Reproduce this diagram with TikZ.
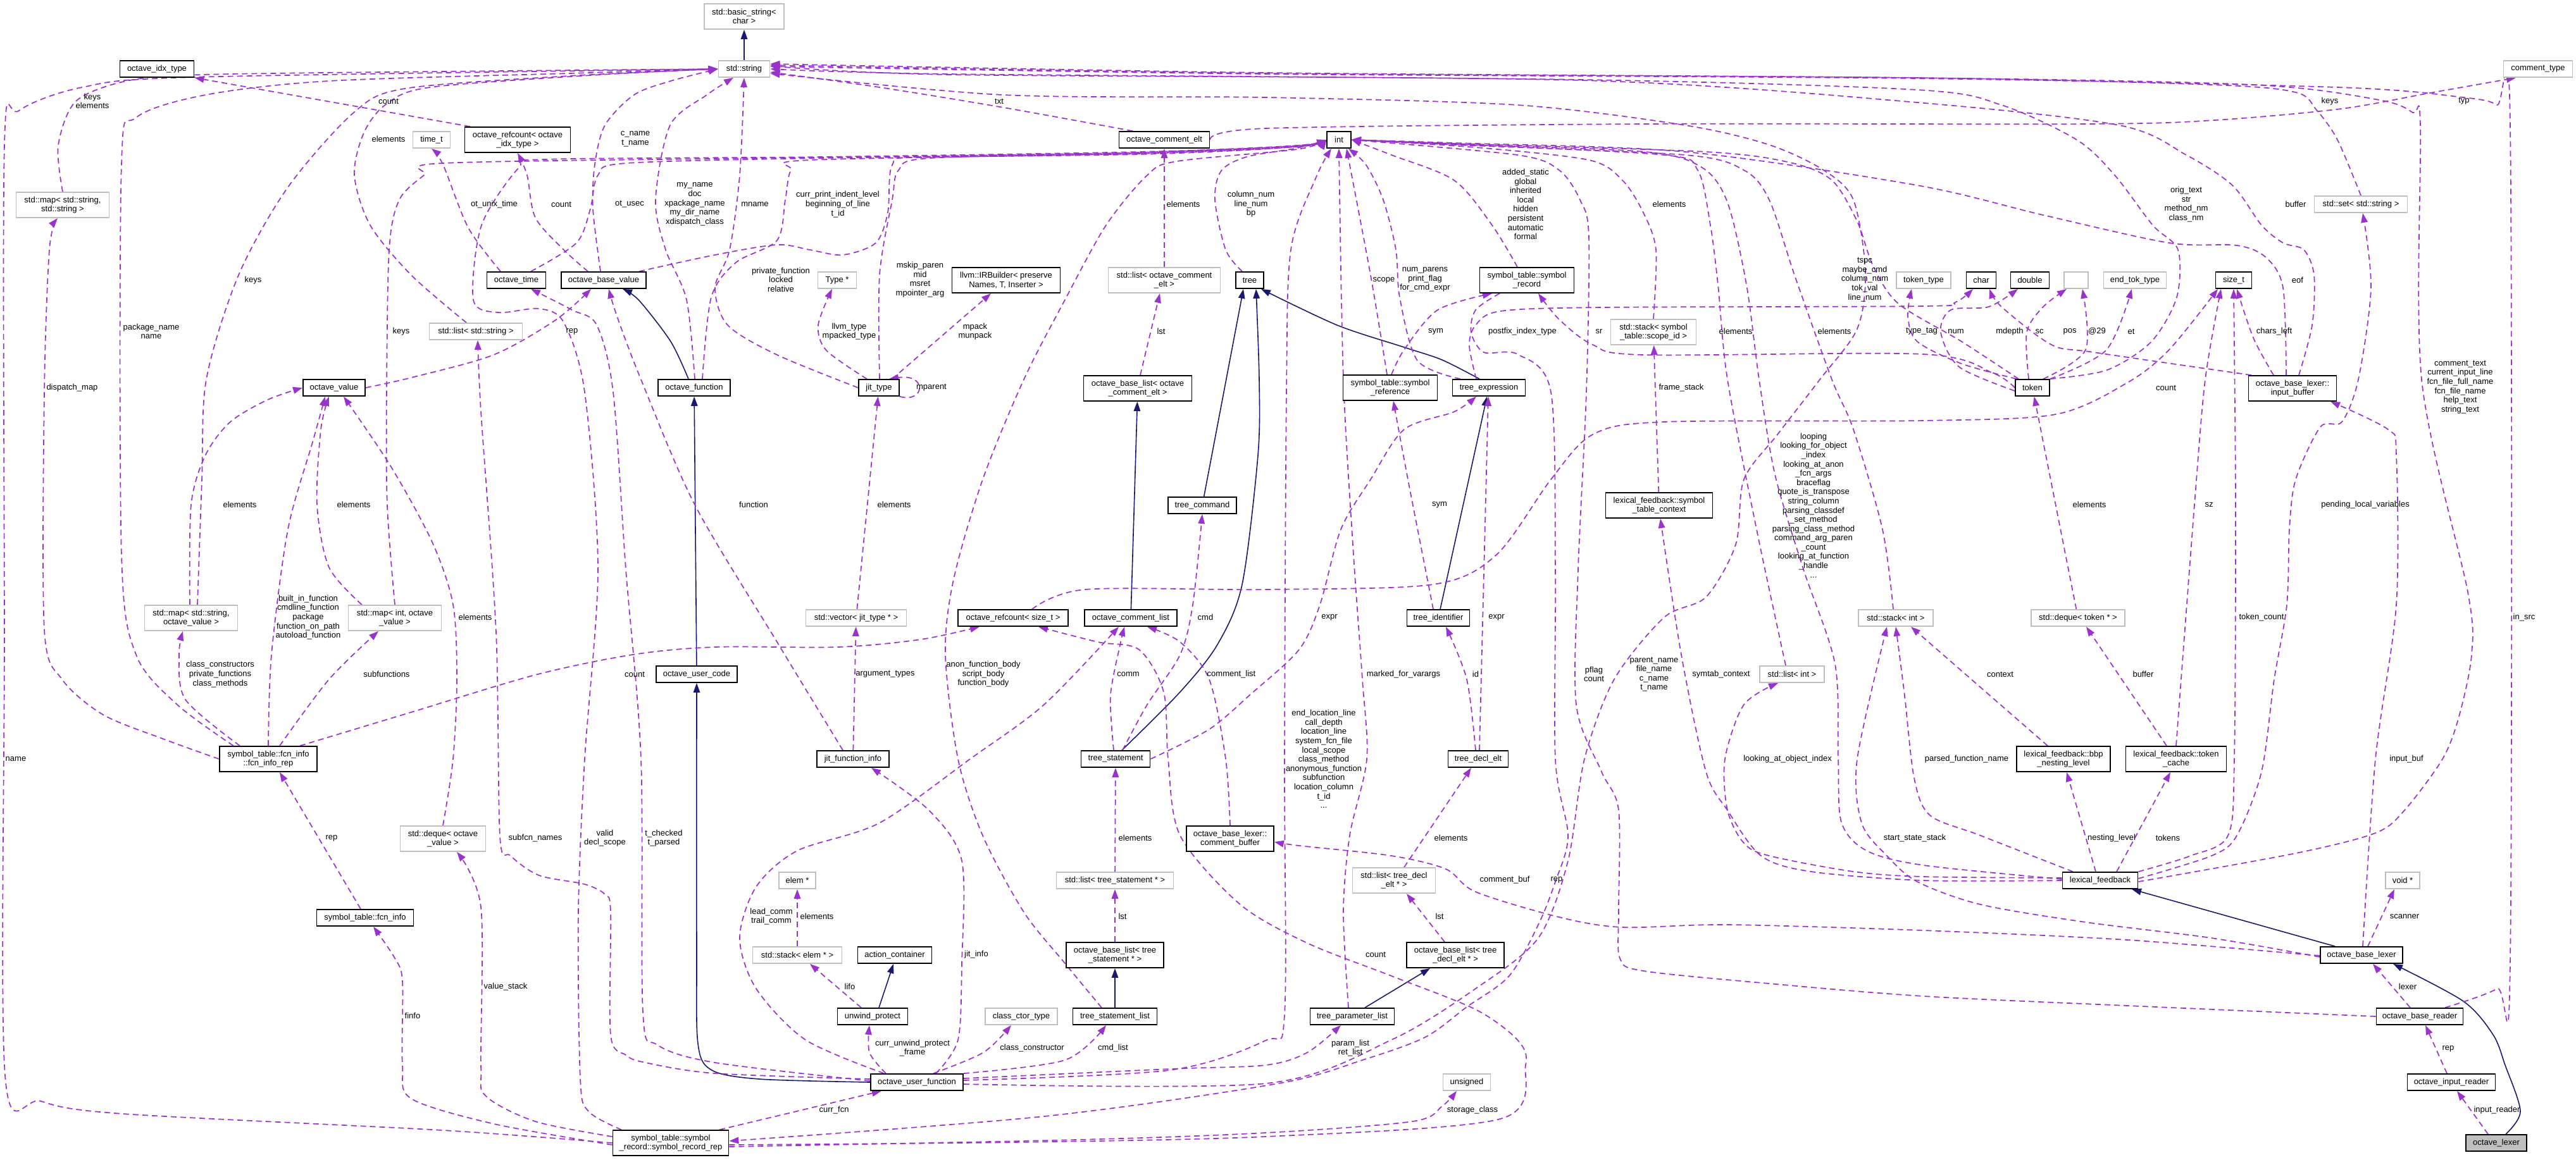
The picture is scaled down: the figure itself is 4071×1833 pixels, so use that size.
\documentclass[tikz,border=0pt]{standalone}
\usepackage{fontspec}
\setmainfont{Liberation Sans}
\usetikzlibrary{arrows.meta}
\definecolor{dpurple}{HTML}{9A32CD}
\definecolor{navyb}{HTML}{191970}
\definecolor{graybd}{HTML}{BFBFBF}
\newcommand\nf{\fontsize{3.7pt}{4.15pt}\selectfont}
\pgfdeclarelayer{back}
\pgfdeclarelayer{edges}
\pgfsetlayers{back,edges,main}
\tikzset{
 cls/.style={draw=black, line width=0.18mm, fill=white, font=\nf, align=center, minimum height=2.6mm, inner xsep=0.3mm, inner ysep=0.2mm},
 ext/.style={cls, draw=graybd},
 two/.style={minimum height=4mm},
 lbl/.style={font=\nf, align=center, inner sep=0pt},
 dep/.style={draw=dpurple, line width=0.17mm, dash pattern=on 0.9mm off 0.6mm, -{Triangle[length=1.5mm,width=1.05mm]}},
 inh/.style={draw=navyb, line width=0.16mm, -{Triangle[length=1.5mm,width=1.05mm]}},
}
\begin{document}
\begin{tikzpicture}[x=0.1mm,y=-0.1mm]
\begin{pgfonlayer}{back}
\fill[white] (0,0) rectangle (4071,1833);
\end{pgfonlayer}
\useasboundingbox (0,0) rectangle (4071,1833);
% ---------------- nodes ----------------
\node[ext,two,minimum width=12.6mm] (bs) at (1176,26) {std::basic\_string<\\char >};
\node[ext,minimum width=8.1mm] (str) at (1176,109) {std::string};
\node[cls,minimum width=11.7mm] (idx) at (248,109) {octave\_idx\_type};
\node[ext,minimum width=10.9mm] (ctype) at (4011,109) {comment\_type};
\node[ext,two,minimum width=14.7mm] (mapss) at (99,324) {std::map< std::string,\\std::string >};
\node[ext,minimum width=5.9mm] (timet) at (682,221) {time\_t};
\node[cls,two,minimum width=16.7mm] (rcidx) at (818,221) {octave\_refcount< octave\\\_idx\_type >};
\node[cls,minimum width=14.3mm] (oce) at (1840,221) {octave\_comment\_elt};
\node[cls,minimum width=3.8mm] (int) at (2116,221) {int};
\node[ext,minimum width=14.7mm] (setstr) at (3731,323) {std::set< std::string >};
\node[cls,minimum width=9.3mm] (otime) at (816,443) {octave\_time};
\node[cls,minimum width=13.4mm] (obv) at (954,443) {octave\_base\_value};
\node[ext,minimum width=14.7mm] (lstr) at (752,524) {std::list< std::string >};
\node[ext,minimum width=6.1mm] (typep) at (1323,443) {Type *};
\node[cls,two,minimum width=17.1mm] (irb) at (1590,443) {llvm::IRBuilder< preserve\\Names, T, Inserter >};
\node[ext,two,minimum width=17.7mm] (locel) at (1840,443) {std::list< octave\_comment\\\_elt >};
\node[cls,minimum width=4.4mm] (tree) at (1975,443) {tree};
\node[cls,two,minimum width=14.9mm] (srec) at (2413,443) {symbol\_table::symbol\\\_record};
\node[ext,two,minimum width=13.5mm] (stscope) at (2613,525) {std::stack< symbol\\\_table::scope\_id >};
\node[ext,minimum width=8.6mm] (toktype) at (3040,443) {token\_type};
\node[cls,minimum width=4.7mm] (chr) at (3131,443) {char};
\node[cls,minimum width=6.1mm] (dbl) at (3208,443) {double};
\node[ext,minimum width=3.8mm] (empty) at (3281,443) {};
\node[ext,minimum width=9.9mm] (etok) at (3374,443) {end\_tok\_type};
\node[cls,minimum width=5.7mm] (sizet) at (3530,443) {size\_t};
\node[cls,minimum width=9.8mm] (ov) at (528,613) {octave\_value};
\node[cls,minimum width=11.4mm] (ofun) at (1097,613) {octave\_function};
\node[cls,minimum width=6.4mm] (jit) at (1389,613) {jit\_type};
\node[cls,two,minimum width=17.1mm] (oblce) at (1798,614) {octave\_base\_list< octave\\\_comment\_elt >};
\node[cls,two,minimum width=14.9mm] (sref) at (2197,613) {symbol\_table::symbol\\\_reference};
\node[cls,minimum width=11.5mm] (texpr) at (2353,613) {tree\_expression};
\node[cls,minimum width=5.4mm] (token) at (3212,613) {token};
\node[cls,two,minimum width=13.9mm] (inbuf) at (3623,614) {octave\_base\_lexer::\\input\_buffer};
\node[cls,minimum width=10.8mm] (tcmd) at (1900,799) {tree\_command};
\node[cls,two,minimum width=16.9mm] (stctx) at (2622,799) {lexical\_feedback::symbol\\\_table\_context};
\node[ext,two,minimum width=14.7mm] (mapsov) at (302,977) {std::map< std::string,\\octave\_value >};
\node[ext,two,minimum width=14.7mm] (mapiov) at (624,977) {std::map< int, octave\\\_value >};
\node[ext,minimum width=15.9mm] (vecjit) at (1353,977) {std::vector< jit\_type * >};
\node[cls,minimum width=17.4mm] (rcsz) at (1601,977) {octave\_refcount< size\_t >};
\node[cls,minimum width=14.6mm] (ocl) at (1787,977) {octave\_comment\_list};
\node[cls,minimum width=9.9mm] (tid) at (2273,977) {tree\_identifier};
\node[ext,minimum width=11.8mm] (stint) at (2996,977) {std::stack< int >};
\node[ext,minimum width=14.8mm] (dqtok) at (3284,977) {std::deque< token * >};
\node[cls,minimum width=12.8mm] (ouc) at (1101,1066) {octave\_user\_code};
\node[ext,minimum width=10.2mm] (lint) at (2832,1066) {std::list< int >};
\node[cls,two,minimum width=15.4mm] (fir) at (424,1200) {symbol\_table::fcn\_info\\::fcn\_info\_rep};
\node[cls,minimum width=11.4mm] (jfi) at (1348,1200) {jit\_function\_info};
\node[cls,minimum width=10.9mm] (tstmt) at (1763,1200) {tree\_statement};
\node[cls,minimum width=9.5mm] (tde) at (2336,1200) {tree\_decl\_elt};
\node[cls,two,minimum width=14.8mm] (bbp) at (3261,1200) {lexical\_feedback::bbp\\\_nesting\_level};
\node[cls,two,minimum width=15.9mm] (tcache) at (3439,1200) {lexical\_feedback::token\\\_cache};
\node[ext,two,minimum width=13.5mm] (dqov) at (700,1326) {std::deque< octave\\\_value >};
\node[cls,two,minimum width=13.8mm] (cbuf) at (1944,1326) {octave\_base\_lexer::\\comment\_buffer};
\node[ext,two,minimum width=13.1mm] (ltde) at (2203,1392) {std::list< tree\_decl\\\_elt * >};
\node[ext,minimum width=5.8mm] (elem) at (1260,1392) {elem *};
\node[ext,minimum width=18.5mm] (lts) at (1762,1392) {std::list< tree\_statement * >};
\node[cls,minimum width=11.9mm] (lexfb) at (3319,1392) {lexical\_feedback};
\node[ext,minimum width=5.4mm] (voidp) at (3797,1392) {void *};
\node[cls,minimum width=15.3mm] (finfo) at (577,1451) {symbol\_table::fcn\_info};
\node[ext,minimum width=14.1mm] (stelem) at (1260,1510) {std::stack< elem * >};
\node[cls,minimum width=11.7mm] (acont) at (1414,1510) {action\_container};
\node[cls,two,minimum width=15.4mm] (oblts) at (1762,1510) {octave\_base\_list< tree\\\_statement * >};
\node[cls,two,minimum width=15.4mm] (obltde) at (2300,1510) {octave\_base\_list< tree\\\_decl\_elt * >};
\node[cls,minimum width=13mm] (obl) at (3732,1510) {octave\_base\_lexer};
\node[cls,minimum width=11.1mm] (unwind) at (1379,1607) {unwind\_protect};
\node[ext,minimum width=11.4mm] (cctor) at (1614,1607) {class\_ctor\_type};
\node[cls,minimum width=13.3mm] (tsl) at (1762,1607) {tree\_statement\_list};
\node[cls,minimum width=13.3mm] (tpl) at (2137,1607) {tree\_parameter\_list};
\node[cls,minimum width=13.7mm] (obr) at (3824,1607) {octave\_base\_reader};
\node[cls,minimum width=14.6mm] (ouf) at (1449,1711) {octave\_user\_function};
\node[ext,minimum width=7.5mm] (unsig) at (2318,1711) {unsigned};
\node[cls,minimum width=13.9mm] (oir) at (3874,1711) {octave\_input\_reader};
\node[cls,two,minimum width=18.3mm] (srr) at (1060,1807) {symbol\_table::symbol\\\_record::symbol\_record\_rep};
\node[cls,fill=graybd,minimum width=9.6mm] (lexer) at (3945,1807) {octave\_lexer};
% ---------------- edges ----------------
\begin{pgfonlayer}{edges}
% inheritance
\draw[inh] (str) -- (bs);
\draw[inh] plot[smooth] coordinates {([xshift=-0.9mm]ofun.north) (1060,540) (1010,475) ([xshift=3mm]obv.south)};
\draw[inh] (ouc) -- (ofun);
\draw[inh] plot[smooth] coordinates {(ouf.west) (1200,1706) (1125,1692) (1103,1650) (1101,1500) (ouc.south)};
\draw[inh] (ocl) -- (oblce);
\draw[inh] (tcmd) -- ([xshift=-1mm]tree.south);
\draw[inh] plot[smooth] coordinates {([xshift=1mm]tstmt.north) (1865,1094) (1924,1019) (1963,924) (1988,720) (1990,600) ([xshift=1mm]tree.south)};
\draw[inh] plot[smooth] coordinates {([xshift=-1.5mm]texpr.north) (2279,569) (2219,549) (2113,514) ([xshift=1.8mm]tree.south)};
\draw[inh] (tid) -- (texpr);
\draw[inh] ([xshift=1mm]unwind.north) -- ([xshift=-0.2mm]acont.south);
\draw[inh] (tsl) -- (oblts);
\draw[inh] ([xshift=2mm]tpl.north) -- ([xshift=-4mm]obltde.south);
\draw[inh] ([xshift=-4.2mm]obl.north) -- ([xshift=5mm]lexfb.south);
\draw[inh] plot[smooth] coordinates {([xshift=1.5mm]lexer.north) (3983,1757) (3959,1684) (3940,1636) (3893,1583) ([xshift=5mm]obl.south)};
% dependencies
\draw[dep] plot[smooth] coordinates {(mapss.north) (92,230) (120,160) (200,128) (320,118) (700,113) (str.west)};
\draw[dep] plot[smooth] coordinates {([xshift=-5.5mm]fir.north) (280,1114) (215,1035) (192,877) (192,260) (215,186) (325,150) (520,128) (900,116) (str.west)};
\draw[dep] plot[smooth] coordinates {(srr.west) (700,1787) (195,1761) (65,1741) (8,1700) (7,1000) (7,230) (30,175) (130,138) (306,122) (str.west)};
\draw[dep] ([xshift=-7.5mm]rcidx.north) -- (idx.south east);
\draw[dep] plot[smooth] coordinates {([xshift=1mm]mapsov.north) (319,760) (326,600) (377,435) (455,296) (559,178) (640,140) (900,120) (str.west)};
\draw[dep] plot[smooth] coordinates {([xshift=-1.5mm]lstr.north) (650,435) (585,356) (560,277) (575,210) (610,165) (680,138) (950,118) (str.west)};
\draw[dep] plot[smooth] coordinates {([xshift=-2.5mm]otime.north) (740,360) (700,260) (timet.south)};
\draw[dep] plot[smooth] coordinates {([xshift=2.3mm]otime.north) (911,384) (933,330) (945,277) (990,258) (1300,250) (1800,244) (2050,232) (int.west)};
\draw[dep] plot[smooth] coordinates {([xshift=-2.5mm]obv.north) (891,395) (846,344) (833,277) (rcidx.south)};
\draw[dep] plot[smooth] coordinates {([xshift=-0.5mm]obv.north) (937,330) (940,260) (956,198) (1002,150) (1060,128) (str.west)};
\draw[dep] plot[smooth] coordinates {(mapiov.north) (612,800) (611,620) (615,395) (631,316) (670,277) (700,258) (1200,250) (1800,242) (2050,230) (int.west)};
\draw[dep] plot[smooth] coordinates {(ov.east) (650,597) (780,561) (878,506) ([xshift=-2mm]obv.south)};
\draw[dep] plot[smooth] coordinates {(fir.west) (260,1169) (163,1130) (98,1074) (70,995) (70,620) (78,395) ([xshift=-0.8mm]mapss.south)};
\draw[dep] plot[smooth] coordinates {([xshift=-0.2mm]mapsov.north) (302,798) (325,719) (364,667) (423,632) (ov.west)};
\draw[dep] plot[smooth] coordinates {([xshift=-5.2mm]mapiov.north) (520,897) (501,798) (507,679) ([xshift=-0.8mm]ov.south)};
\draw[dep] plot[smooth] coordinates {(fir.north) (429,1035) (455,837) (494,699) ([xshift=-1.4mm]ov.south)};
\draw[dep] plot[smooth] coordinates {(dqov.north) (716,1200) (722,1074) (716,956) (683,857) (618,738) ([xshift=1.5mm]ov.south)};
\draw[dep] plot[smooth] coordinates {([xshift=-4.5mm]fir.north) (293,1106) (283,1035) ([xshift=-1.3mm]mapsov.south)};
\draw[dep] plot[smooth] coordinates {([xshift=1.8mm]fir.north) (520,1074) ([xshift=-2.6mm]mapiov.south)};
\draw[dep] plot[smooth] coordinates {([xshift=5mm]fir.north) (650,1126) (846,1067) (1000,1035) (1130,1023) (1325,1023) (1455,1011) ([xshift=-5.3mm]rcsz.south)};
\draw[dep] ([xshift=-0.7mm]finfo.north) -- ([xshift=1.8mm]fir.south);
\draw[dep] plot[smooth] coordinates {([yshift=-0.3mm]srr.west) (781,1777) (650,1737) (636,1684) (636,1551) (624,1515) ([xshift=1.3mm]finfo.south)};
\draw[dep] plot[smooth] coordinates {([yshift=1mm]srr.west) (846,1773) (768,1733) (760,1684) (760,1434) ([xshift=2.2mm]dqov.south)};
\draw[dep] plot[smooth] coordinates {([yshift=0.5mm]ouf.west) (1130,1697) (1020,1680) (989,1668) (965,1636) (965,1442) (956,1414) (924,1398) (852,1384) (807,1353) (790,1321) (784,1000) (760,650) ([xshift=0.3mm]lstr.south)};
\draw[dep] plot[smooth] coordinates {([xshift=-7.8mm]srr.north) (930,1757) (917,1705) (914,1442) (924,1200) (945,900) (924,620) (891,510) (852,488) (787,494) (748,474) (761,356) (820,265) (860,252) (1300,248) (1800,240) (2050,231) (int.west)};
\draw[dep] plot[smooth] coordinates {([yshift=0.2mm]ouf.west) (1130,1680) (1039,1652) (1016,1600) (1013,1200) (989,900) (969,620) (943,514) (904,490) ([xshift=2.3mm]otime.south)};
\draw[dep] plot[smooth] coordinates {([xshift=0.1mm]ofun.north) (1085,474) (1052,395) (1036,316) (1059,198) (1117,150) ([xshift=-1.7mm]str.south)};
\draw[dep] plot[smooth] coordinates {(jit.west) (1228,561) (1150,514) (1130,455) (1153,395) (1169,277) (str.south)};
\draw[dep] plot[smooth] coordinates {([xshift=5.6mm]obv.north) (1130,403) (1228,387) (1280,395) (1332,403) (1384,384) (1403,336) (1410,261) (1455,248) (1800,241) (2050,230) (int.west)};
\draw[dep] plot[smooth] coordinates {([xshift=1.3mm]ofun.north) (1124,470) (1163,415) (1228,380) (1241,316) (1250,269) (1280,253) (1800,243) (2050,232) (int.west)};
\draw[dep] plot[smooth] coordinates {([xshift=-1.9mm]jit.north) (1306,554) (1293,514) ([xshift=-0.8mm]typep.south)};
\draw[dep] ([xshift=2.1mm]jit.north) -- ([xshift=-2.4mm]irb.south);
\draw[dep] plot[smooth] coordinates {([xshift=0.1mm]jit.north) (1390,435) (1410,316) (1420,269) (1470,250) (1800,242) (2050,231) (int.west)};
\draw[dep] (jit.south east) .. controls (1462,638) and (1466,590) .. ([xshift=1.6mm]jit.north);
\draw[dep] plot[smooth] coordinates {([xshift=-5mm]oce.north) (1586,170) (1390,138) ([yshift=-0.5mm]str.east)};
\draw[dep] plot[smooth] coordinates {(oce.east) (2000,203) (2600,196) (3300,196) (3500,190) (3700,172) (3840,147) ([xshift=-3.5mm]ctype.south)};
\draw[dep] (locel) -- (oce);
\draw[dep] ([xshift=0.4mm]oblce.north) -- ([xshift=-0.7mm]locel.south);
\draw[dep] plot[smooth] coordinates {([xshift=-1.2mm]tree.north) (1937,395) (1920,316) (1930,270) (1970,248) (2050,234) (int.west)};
\draw[dep] plot[smooth] coordinates {([xshift=-1.5mm]srec.north) (2358,356) (2298,285) (2199,245) (int.east)};
\draw[dep] plot[smooth] coordinates {([xshift=-0.5mm]sref.north) (2166,435) ([xshift=1.2mm]int.south)};
\draw[dep] plot[smooth] coordinates {([xshift=-4.5mm]texpr.north) (2240,570) (2212,470) (2206,395) (2186,316) (2159,261) ([xshift=1.5mm]int.south)};
\draw[dep] plot[smooth] coordinates {([yshift=0.3mm]ouf.east) (1848,1692) (2000,1645) (2030,1604) (2030,1200) (2033,620) (2040,395) (2080,280) ([xshift=-1.2mm]int.south)};
\draw[dep] plot[smooth] coordinates {([xshift=-0.6mm]tpl.north) (2123,1442) (2133,1321) (2160,1200) (2153,1074) (2139,877) (2123,600) (int.south)};
\draw[dep] plot[smooth] coordinates {([yshift=-0.3mm]srr.east) (1600,1806) (2000,1797) (2371,1769) (2411,1684) (2398,1644) (2332,1596) (2199,1543) (2066,1491) (1960,1430) (1865,1321) (1846,1200) (1839,1094) (1800,1027) (1735,1015) ([xshift=4mm]rcsz.south)};
\draw[dep] plot[smooth] coordinates {([yshift=-0.6mm]srr.east) (1700,1802) (2000,1791) (2232,1773) (2279,1749) ([xshift=-1.6mm]unsig.south)};
\draw[dep] ([xshift=7.7mm]srr.north) -- ([xshift=-5.6mm]ouf.south);
\draw[dep] plot[smooth] coordinates {([xshift=-4.3mm]srec.south) (2332,490) (2325,526) (2345,557) (2398,560) (2451,620) (2458,900) (2458,1200) (2478,1321) (2458,1394) (2431,1462) (2385,1543) (2318,1592) (2252,1640) (2153,1676) (2020,1713) (1650,1765) ([yshift=0.3mm]srr.east)};
\draw[dep] plot[smooth] coordinates {([xshift=0.2mm]sref.north) (2219,553) (2272,490) ([xshift=-5.5mm]srec.south)};
\draw[dep] plot[smooth] coordinates {([xshift=-2mm]texpr.north) (2322,546) (2332,514) (2371,492) (2531,486) (3040,484) (3090,478) ([xshift=-1.3mm]chr.south)};
\draw[dep] plot[smooth] coordinates {(token.west) (3150,590) (3040,560) (2597,561) (2517,545) (2464,505) ([xshift=1.8mm]srec.south)};
\draw[dep] (stctx) -- (stscope);
\draw[dep] plot[smooth] coordinates {(stscope.north) (2617,395) (2597,336) (2564,285) (2511,253) (2332,233) (int.east)};
\draw[dep] plot[smooth] coordinates {([xshift=-1mm]lint.north) (2776,837) (2730,600) (2715,450) (2703,356) (2683,269) (2630,245) (2300,228) (int.east)};
\draw[dep] plot[smooth] coordinates {([xshift=-0.4mm]stint.north) (2975,837) (2929,679) (2895,600) (2836,435) (2796,316) (2756,269) (2663,245) (2300,229) (int.east)};
\draw[dep] plot[smooth] coordinates {([xshift=-2.2mm]token.north) (3100,540) (3000,480) (2960,420) (2935,350) (2895,285) (2829,257) (2696,240) (2300,227) (int.east)};
\draw[dep] plot[smooth] coordinates {([yshift=-0.3mm]ouf.east) (2000,1713) (2199,1644) (2332,1563) (2431,1483) (2478,1361) (2504,1200) (2551,1074) (2630,976) (2696,944) (2743,861) (2756,758) (2809,687) (2876,600) (2935,520) (2948,430) (2929,316) (2882,269) (2796,229) (2663,198) (2398,166) (2000,154) (1585,150) ([yshift=-0.7mm]str.east)};
\draw[dep] plot[smooth] coordinates {(token.north east) (3330,585) (3400,540) (3440,470) (3442,395) (3402,356) (3342,277) (3282,221) (3163,166) (3030,142) (2500,126) (1500,117) (str.east)};
\draw[dep] plot[smooth] coordinates {([xshift=1mm]inbuf.north) (3654,514) (3657,435) (3641,395) (3608,384) (3574,356) (3528,293) (3455,245) (3349,198) (3030,162) (2500,127) (1500,118) ([yshift=0.5mm]str.east)};
\draw[dep] plot[smooth] coordinates {([xshift=-1mm]inbuf.north) (3608,455) (3581,407) (3535,388) (3428,384) (3229,340) (3030,293) (2663,240) (2300,226) (int.east)};
\draw[dep] plot[smooth] coordinates {([xshift=-3mm]inbuf.north) (3561,534) ([xshift=0.5mm]sizet.south)};
\draw[dep] plot[smooth] coordinates {([xshift=-6.5mm]inbuf.north) (3309,557) (3242,545) (3163,485) ([xshift=1.3mm]chr.south)};
\draw[dep] plot[smooth] coordinates {(setstr.north) (3694,221) (3661,174) (3628,146) (3495,134) (3030,123) (2000,115) ([yshift=0.8mm]str.east)};
\draw[dep] plot[smooth] coordinates {([yshift=0.3mm]lexfb.east) (3495,1353) (3535,1321) (3574,1220) (3594,1074) (3614,956) (3618,837) (3628,758) (3667,675) (3701,667) (3727,600) (3747,455) ([xshift=0.3mm]setstr.south)};
\draw[dep] plot[smooth] coordinates {([yshift=-0.2mm]lexfb.east) (3628,1349) (3754,1317) (3800,1281) (3860,1200) (3886,1133) (3906,1035) (3900,936) (3827,600) (3825,198) (3813,178) (3760,158) (3561,134) (3030,123) (2000,116) ([yshift=0.6mm]str.east)};
\draw[dep] plot[smooth] coordinates {([xshift=4mm]obr.north) (3946,1563) (3967,1523) (3967,198) (3946,166) (3893,154) (3694,138) (3030,124) (2000,117) ([yshift=0.4mm]str.east)};
\draw[dep] plot[smooth] coordinates {([xshift=0.2mm]obl.north) (3754,1200) (3787,956) (3787,719) (3774,679) ([xshift=6mm]inbuf.south)};
\draw[dep] ([xshift=1mm]obl.north) -- ([xshift=-1.3mm]voidp.south);
\draw[dep] ([xshift=-1.5mm]obr.north) -- ([xshift=1.8mm]obl.south);
\draw[dep] ([xshift=-0.7mm]oir.north) -- ([xshift=0.9mm]obr.south);
\draw[dep] ([xshift=-1.3mm]lexer.north) -- ([xshift=0.9mm]oir.south);
\draw[dep] ([xshift=-0.7mm]lexfb.north) -- ([xshift=0.5mm]bbp.south);
\draw[dep] ([xshift=2.6mm]lexfb.north) -- ([xshift=-0.9mm]tcache.south);
\draw[dep] ([xshift=-2.5mm]bbp.north) -- ([xshift=2.4mm]stint.south);
\draw[dep] ([xshift=-1.5mm]tcache.north) -- ([xshift=1.3mm]dqtok.south);
\draw[dep] (dqtok) -- (token);
\draw[dep] plot[smooth] coordinates {(tcache.north) (3468,798) (3485,600) ([xshift=-2mm]sizet.south)};
\draw[dep] plot[smooth] coordinates {(lexfb.north east) (3462,1353) (3521,1321) (3531,1200) (3533,800) (sizet.south)};
\draw[dep] plot[smooth] coordinates {([xshift=3mm]rcsz.north) (1715,932) (2000,932) (2265,924) (2365,877) (2451,758) (2517,687) (2630,667) (3040,665) (3249,655) (3362,605) (3428,553) ([xshift=-2.5mm]sizet.south)};
\draw[dep] plot[smooth] coordinates {([yshift=0.4mm]lexfb.west) (3040,1386) (2929,1378) (2796,1353) (2756,1333) (2730,1281) (2726,1200) (2756,1114) ([xshift=-2.2mm]lint.south)};
\draw[dep] plot[smooth] coordinates {([yshift=0.2mm]lexfb.west) (3040,1368) (2950,1345) (2910,1300) (2905,1200) (2900,1050) (2850,900) (2805,750) (2780,600) (2760,450) (2730,320) (2690,265) (2600,240) (2300,228) (int.east)};
\draw[dep] plot[smooth] coordinates {([xshift=-4.3mm]lexfb.north) (3130,1321) (3050,1289) (3025,1230) (3010,1100) (stint.south)};
\draw[dep] plot[smooth] coordinates {([yshift=-0.3mm]obl.west) (3495,1483) (3296,1458) (3130,1430) (3030,1394) (2982,1353) (2942,1301) (2935,1200) ([xshift=-1.4mm]stint.south)};
\draw[dep] plot[smooth] coordinates {(lexfb.west) (3040,1392) (2862,1378) (2783,1353) (2730,1281) (2696,1220) (2657,1035) ([xshift=0.2mm]stctx.south)};
\draw[dep] plot[smooth] coordinates {([yshift=-0.1mm]obl.west) (3362,1486) (3040,1471) (2730,1462) (2564,1466) (2464,1450) (2332,1410) (2285,1374) (2199,1353) (2053,1337) ([yshift=-0.5mm]cbuf.east)};
\draw[dep] plot[smooth] coordinates {(cbuf.north) (1937,1200) (1911,1074) (1865,1015) ([xshift=2.6mm]ocl.south)};
\draw[dep] plot[smooth] coordinates {([xshift=-0.3mm]tstmt.north) (1755,1100) (1770,1020) ([xshift=-1mm]ocl.south)};
\draw[dep] plot[smooth] coordinates {([xshift=1.1mm]tstmt.north) (1813,1114) (1865,1035) (1885,956) (tcmd.south)};
\draw[dep] plot[smooth] coordinates {(tstmt.east) (1911,1153) (1976,1098) (2053,1027) (2086,956) (2119,837) (2166,758) (2219,679) (2298,651) ([xshift=-2mm]texpr.south)};
\draw[dep] ([xshift=0.2mm]tde.north) -- ([xshift=-0.1mm]texpr.south);
\draw[dep] plot[smooth] coordinates {([xshift=-0.4mm]tde.north) (2318,1074) ([xshift=1.2mm]tid.south)};
\draw[dep] ([xshift=1.6mm]ltde.north) -- ([xshift=-1.1mm]tde.south);
\draw[dep] ([xshift=-1.7mm]obltde.north) -- ([xshift=2mm]ltde.south);
\draw[dep] plot[smooth] coordinates {([yshift=0.6mm]ouf.east) (1850,1690) (2000,1684) (2066,1664) ([xshift=-1.8mm]tpl.south)};
\draw[dep] (lts) -- (tstmt);
\draw[dep] (oblts) -- (lts);
\draw[dep] plot[smooth] coordinates {(ouf.north east) (1683,1676) ([xshift=-1.4mm]tsl.south)};
\draw[dep] plot[smooth] coordinates {([xshift=2.6mm]ouf.north) (1554,1664) ([xshift=-1.6mm]cctor.south)};
\draw[dep] plot[smooth] coordinates {([xshift=-4.9mm]ouf.north) (1374,1664) ([xshift=-0.5mm]unwind.south)};
\draw[dep] ([xshift=-1.8mm]unwind.north) -- ([xshift=2mm]stelem.south);
\draw[dep] (stelem) -- (elem);
\draw[dep] plot[smooth] coordinates {([xshift=-5.2mm]ouf.north) (1273,1644) (1195,1563) (1169,1483) (1195,1402) (1260,1345) (1390,1301) (1533,1200) (1650,1114) ([xshift=-1.9mm]ocl.south)};
\draw[dep] plot[smooth] coordinates {([xshift=3mm]ouf.north) (1514,1644) (1520,1523) (1520,1361) (1468,1281) ([xshift=2.9mm]jfi.south)};
\draw[dep] (jfi) -- (vecjit);
\draw[dep] (vecjit) -- (jit);
\draw[dep] plot[smooth] coordinates {([xshift=-1.6mm]jfi.north) (1228,1015) (1098,798) (1013,600) (975,500) ([xshift=0.8mm]obv.south)};
\draw[dep] plot[smooth] coordinates {([xshift=-2.1mm]tsl.north) (1683,1523) (1618,1442) (1553,1321) (1514,1200) (1494,1035) (1507,916) (1553,758) (1618,600) (1683,474) (1748,356) (1813,277) (1860,255) (2050,236) (int.west)};
\draw[dep] plot[smooth] coordinates {([xshift=-0.8mm]tid.north) (2225,758) ([xshift=0.5mm]sref.south)};
\draw[dep] plot[smooth] coordinates {(obr.west) (3362,1590) (3040,1575) (2796,1555) (2597,1535) (2560,1515) (2558,1442) (2558,1281) (2531,1220) (2491,1114) (2494,900) (2507,620) (2511,375) (2497,316) (2464,269) (2398,245) (int.east)};
\draw[dep] plot[smooth] coordinates {([xshift=-2.5mm]token.north) (3100,575) (3030,540) (3015,500) ([xshift=-1.9mm]toktype.south)};
\draw[dep] plot[smooth] coordinates {([yshift=-0.5mm]token.west) (3096,580) (3067,525) (3083,490) (3143,485) ([xshift=-1.9mm]dbl.south)};
\draw[dep] plot[smooth] coordinates {([xshift=-0.6mm]token.north) (3203,525) (3229,485) ([xshift=-1.5mm]empty.south)};
\draw[dep] plot[smooth] coordinates {([xshift=1.7mm]token.north) (3296,553) ([xshift=1mm]empty.south)};
\draw[dep] plot[smooth] coordinates {(token.north east) (3329,553) ([xshift=-0.5mm]etok.south)};
\end{pgfonlayer}
% ---------------- labels ----------------
\node[lbl] (a1) at (146,160) {keys\\elements};
\node[lbl] (a2) at (614,160) {count};
\node[lbl] (a3) at (614,220) {elements};
\node[lbl] (a4) at (1004,220) {c\_name\\t\_name};
\node[lbl] (a5) at (781,323) {ot\_unix\_time};
\node[lbl] (a6) at (887,323) {count};
\node[lbl] (a7) at (995,323) {ot\_usec};
\node[lbl] (a8) at (400,443) {keys};
\node[lbl] (a9) at (239,524) {package\_name\\name};
\node[lbl] (a10) at (634,524) {keys};
\node[lbl] (a11) at (904,524) {rep};
\node[lbl] (a12) at (114,613) {dispatch\_map};
\node[lbl] (a13) at (1579,160) {txt};
\node[lbl] (a14) at (1098,323) {my\_name\\doc\\xpackage\_name\\my\_dir\_name\\xdispatch\_class};
\node[lbl] (a15) at (1193,323) {mname};
\node[lbl] (a16) at (1324,323) {curr\_print\_indent\_level\\beginning\_of\_line\\t\_id};
\node[lbl] (a17) at (1870,323) {elements};
\node[lbl] (a18) at (1977,323) {column\_num\\line\_num\\bp};
\node[lbl] (a19) at (1234,442) {private\_function\\locked\\relative};
\node[lbl] (a20) at (1454,442) {mskip\_paren\\mid\\msret\\mpointer\_arg};
\node[lbl] (a21) at (1342,524) {llvm\_type\\mpacked\_type};
\node[lbl] (a22) at (1541,524) {mpack\\munpack};
\node[lbl] (a23) at (1835,524) {lst};
\node[lbl] (a24) at (1472,613) {mparent};
\node[lbl] (a25) at (2411,323) {added\_static\\global\\inherited\\local\\hidden\\persistent\\automatic\\formal};
\node[lbl] (a26) at (2638,323) {elements};
\node[lbl] (a27) at (2187,443) {scope};
\node[lbl] (a28) at (2252,442) {num\_parens\\print\_flag\\for\_cmd\_expr};
\node[lbl] (a29) at (2947,442) {tspc\\maybe\_cmd\\column\_num\\tok\_val\\line\_num};
\node[lbl] (a30) at (2269,524) {sym};
\node[lbl] (a31) at (2406,524) {postfix\_index\_type};
\node[lbl] (a32) at (2527,524) {sr};
\node[lbl] (a33) at (2743,524) {elements};
\node[lbl] (a34) at (2899,524) {elements};
\node[lbl] (a35) at (3037,524) {type\_tag};
\node[lbl] (a36) at (2657,613) {frame\_stack};
\node[lbl] (a37) at (3682,160) {keys};
\node[lbl] (a38) at (3894,160) {typ};
\node[lbl] (a39) at (3455,323) {orig\_text\\str\\method\_nm\\class\_nm};
\node[lbl] (a40) at (3628,323) {buffer};
\node[lbl] (a41) at (3631,443) {eof};
\node[lbl] (a42) at (3091,524) {num};
\node[lbl] (a43) at (3176,524) {mdepth};
\node[lbl] (a44) at (3223,524) {sc};
\node[lbl] (a45) at (3271,524) {pos};
\node[lbl] (a46) at (3314,524) {@29};
\node[lbl] (a47) at (3368,524) {et};
\node[lbl] (a48) at (3594,524) {chars\_left};
\node[lbl] (a49) at (3423,613) {count};
\node[lbl] (a50) at (3888,612) {comment\_text\\current\_input\_line\\fcn\_file\_full\_name\\fcn\_file\_name\\help\_text\\string\_text};
\node[lbl] (a51) at (379,798) {elements};
\node[lbl] (a52) at (559,798) {elements};
\node[lbl] (a53) at (487,976) {built\_in\_function\\cmdline\_function\\package\\function\_on\_path\\autoload\_function};
\node[lbl] (a54) at (751,976) {elements};
\node[lbl] (a55) at (348,1066) {class\_constructors\\private\_functions\\class\_methods};
\node[lbl] (a56) at (611,1066) {subfunctions};
\node[lbl] (a57) at (1003,1066) {count};
\node[lbl] (a58) at (25,1200) {name};
\node[lbl] (a59) at (1191,798) {function};
\node[lbl] (a60) at (1413,798) {elements};
\node[lbl] (a61) at (1905,976) {cmd};
\node[lbl] (a62) at (1399,1066) {argument\_types};
\node[lbl] (a63) at (1554,1066) {anon\_function\_body\\script\_body\\function\_body};
\node[lbl] (a64) at (1783,1066) {comm};
\node[lbl] (a65) at (1946,1066) {comment\_list};
\node[lbl] (a66) at (2275,798) {sym};
\node[lbl] (a67) at (2866,799) {looping\\looking\_for\_object\\\_index\\looking\_at\_anon\\\_fcn\_args\\braceflag\\quote\_is\_transpose\\string\_column\\parsing\_classdef\\\_set\_method\\parsing\_class\_method\\command\_arg\_paren\\\_count\\looking\_at\_function\\\_handle\\...};
\node[lbl] (a68) at (2101,976) {expr};
\node[lbl] (a69) at (2365,976) {expr};
\node[lbl] (a70) at (2218,1066) {marked\_for\_varargs};
\node[lbl] (a71) at (2332,1066) {id};
\node[lbl] (a72) at (2519,1066) {pflag\\count};
\node[lbl] (a73) at (2614,1066) {parent\_name\\file\_name\\c\_name\\t\_name};
\node[lbl] (a74) at (2720,1066) {symtab\_context};
\node[lbl] (a75) at (2092,1200) {end\_location\_line\\call\_depth\\location\_line\\system\_fcn\_file\\local\_scope\\class\_method\\anonymous\_function\\subfunction\\location\_column\\t\_id\\...};
\node[lbl] (a76) at (2825,1200) {looking\_at\_object\_index};
\node[lbl] (a77) at (3302,798) {elements};
\node[lbl] (a78) at (3491,798) {sz};
\node[lbl] (a79) at (3738,798) {pending\_local\_variables};
\node[lbl] (a80) at (3574,976) {token\_count};
\node[lbl] (a81) at (3989,976) {in\_src};
\node[lbl] (a82) at (3161,1066) {context};
\node[lbl] (a83) at (3387,1066) {buffer};
\node[lbl] (a84) at (3108,1200) {parsed\_function\_name};
\node[lbl] (a85) at (3803,1200) {input\_buf};
\node[lbl] (a86) at (524,1325) {rep};
\node[lbl] (a87) at (846,1325) {subfcn\_names};
\node[lbl] (a88) at (956,1325) {valid\\decl\_scope};
\node[lbl] (a89) at (799,1560) {value\_stack};
\node[lbl] (a90) at (652,1606) {finfo};
\node[lbl] (a91) at (1049,1325) {t\_checked\\t\_parsed};
\node[lbl] (a92) at (1794,1325) {elements};
\node[lbl] (a93) at (1219,1449) {lead\_comm\\trail\_comm};
\node[lbl] (a94) at (1291,1449) {elements};
\node[lbl] (a95) at (1774,1449) {lst};
\node[lbl] (a96) at (1543,1509) {jit\_info};
\node[lbl] (a97) at (1343,1560) {lifo};
\node[lbl] (a98) at (1442,1657) {curr\_unwind\_protect\\\_frame};
\node[lbl] (a99) at (1631,1657) {class\_constructor};
\node[lbl] (a100) at (1759,1657) {cmd\_list};
\node[lbl] (a101) at (1318,1755) {curr\_fcn};
\node[lbl] (a102) at (2293,1325) {elements};
\node[lbl] (a103) at (2378,1391) {comment\_buf};
\node[lbl] (a104) at (2460,1391) {rep};
\node[lbl] (a105) at (2275,1449) {lst};
\node[lbl] (a106) at (2174,1509) {count};
\node[lbl] (a107) at (2134,1657) {param\_list\\ret\_list};
\node[lbl] (a108) at (2327,1755) {storage\_class};
\node[lbl] (a109) at (3026,1325) {start\_state\_stack};
\node[lbl] (a110) at (3337,1325) {nesting\_level};
\node[lbl] (a111) at (3426,1325) {tokens};
\node[lbl] (a112) at (3800,1449) {scanner};
\node[lbl] (a113) at (3805,1560) {lexer};
\node[lbl] (a114) at (3869,1658) {rep};
\node[lbl] (a115) at (3946,1755) {input\_reader};
\end{tikzpicture}
\end{document}
